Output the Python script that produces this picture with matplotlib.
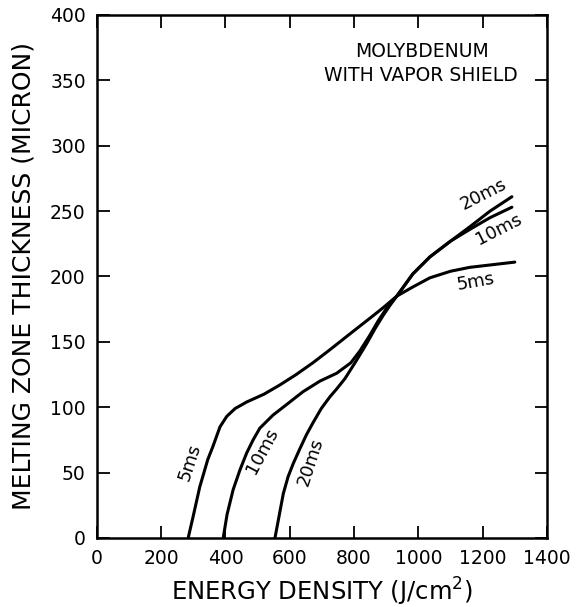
import numpy as np
import matplotlib
matplotlib.use("Agg")
import matplotlib.pyplot as plt

# melting zone thickness vs energy density, three pulse lengths
e_5ms = [284, 300, 320, 345, 361, 383, 404, 430, 466, 520, 569, 620, 672, 725,
         797, 849, 890, 933, 983, 1036, 1100, 1160, 1230, 1300]
t_5ms = [0, 17, 39, 60, 70, 85, 93, 99, 104, 110, 117, 125, 134, 144,
         158, 168, 176, 185, 192, 199, 204, 207, 209, 211]

e_10ms = [393, 405, 424, 445, 466, 486, 507, 548, 590, 621, 642, 694, 746, 790,
          818, 849, 875, 902, 933, 983, 1036, 1100, 1160, 1223, 1291]
t_10ms = [0, 18, 37, 52, 65, 75, 84, 94, 102, 108, 112, 120, 126, 134,
          143, 155, 166, 176, 185, 202, 215, 227, 236, 245, 253]

e_20ms = [554, 567, 580, 595, 611, 631, 652, 672, 698, 725, 746, 772, 808, 840,
          865, 890, 912, 933, 983, 1036, 1100, 1160, 1223, 1291]
t_20ms = [0, 17, 34, 47, 57, 68, 79, 88, 99, 108, 114, 122, 136, 149,
          160, 170, 178, 185, 202, 215, 227, 238, 250, 261]

x_ticks = [0, 200, 400, 600, 800, 1000, 1200, 1400]
y_ticks = [0, 50, 100, 150, 200, 250, 300, 350, 400]

# curve labels: text, x, y, rotation
curve_labels = [
    ("5ms", 290, 58, 72),
    ("10ms", 515, 67, 62),
    ("20ms", 665, 58, 72),
    ("20ms", 1203, 263, 27),
    ("10ms", 1250, 236, 27),
    ("5ms", 1178, 196, 10),
]

fig = plt.figure(figsize=(5.8, 6.07), dpi=100)
ax = fig.add_axes([0.167, 0.1137, 0.776, 0.8616])

for e, t in [(e_5ms, t_5ms), (e_10ms, t_10ms), (e_20ms, t_20ms)]:
    ax.plot(e, t, color="black", lw=2.2, solid_capstyle="round",
            solid_joinstyle="round")

for txt, x, y, rot in curve_labels:
    ax.text(x, y, txt, rotation=rot, fontsize=13, ha="center", va="center")

ax.text(1010, 372, "MOLYBDENUM", fontsize=13.5, ha="center", va="center")
ax.text(1008, 354, "WITH VAPOR SHIELD", fontsize=13.5, ha="center", va="center")

ax.set_xlim(0, 1400)
ax.set_ylim(0, 400)
ax.set_xticks(x_ticks)
ax.set_yticks(y_ticks)
ax.tick_params(direction="in", length=9, width=1.3, top=True, right=True,
               labelsize=13.5, pad=8)
for s in ax.spines.values():
    s.set_linewidth(1.8)

ax.set_xlabel("ENERGY DENSITY (J/cm$^2$)", fontsize=17.5, va="center")
ax.xaxis.set_label_coords(0.5, -0.103)
ax.set_ylabel("MELTING ZONE THICKNESS (MICRON)", fontsize=18, va="center")
ax.yaxis.set_label_coords(-0.163, 0.5)

fig.savefig("out.png", dpi=100)
